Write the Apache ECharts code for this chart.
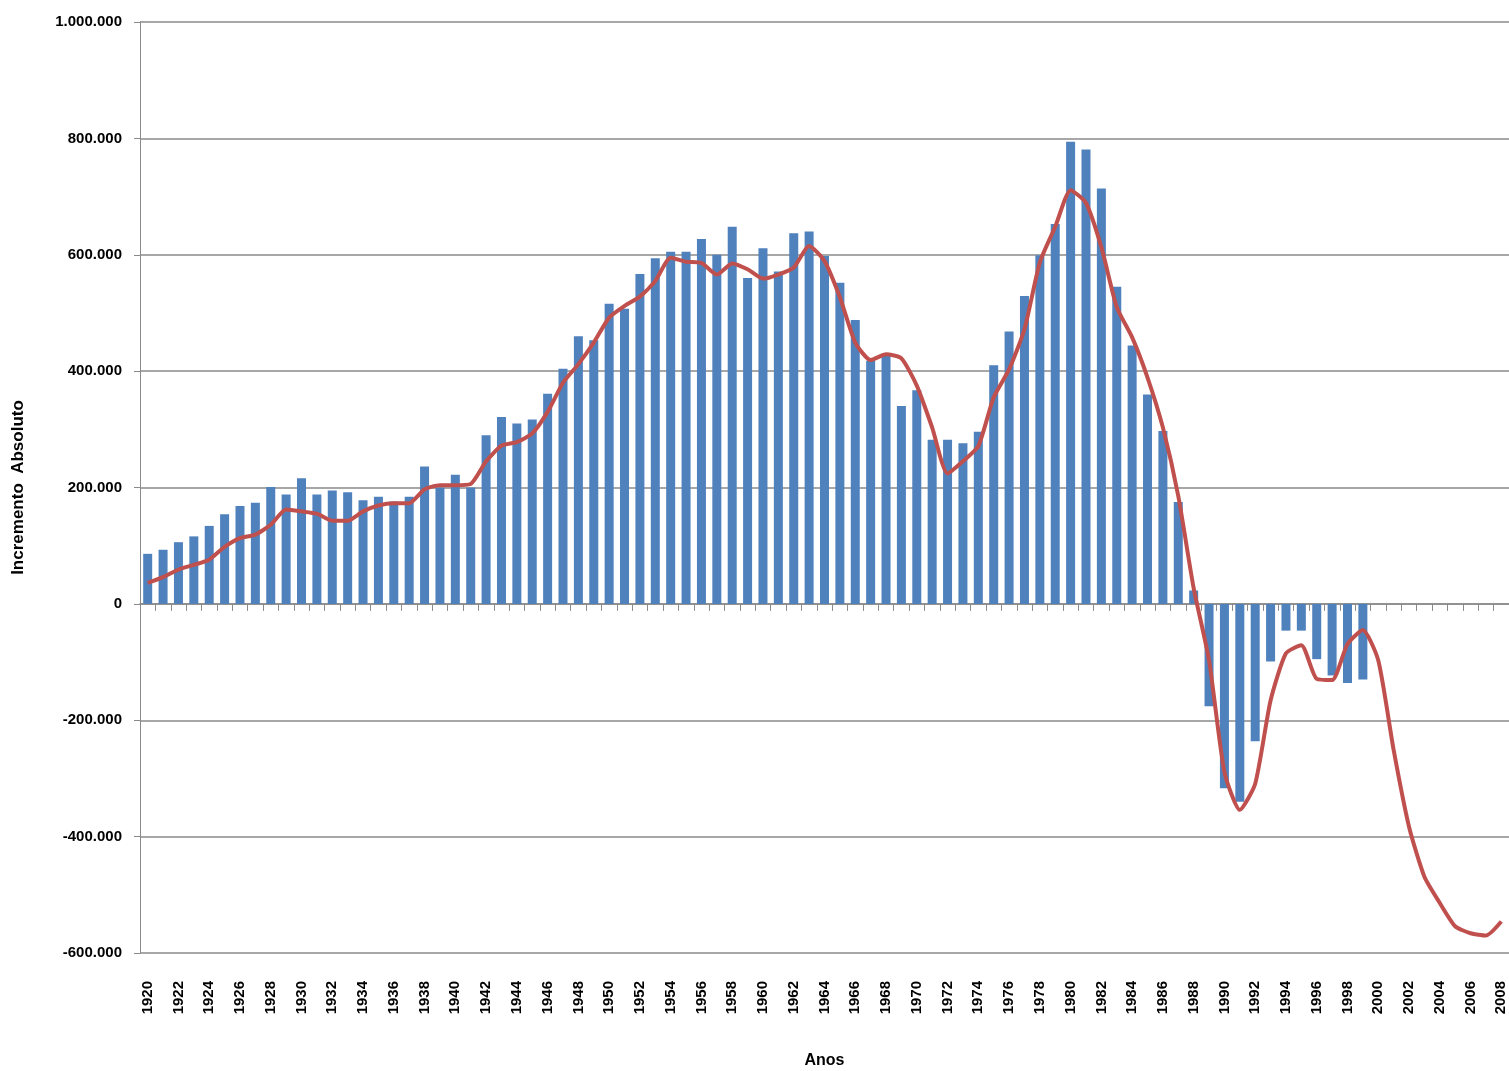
<!DOCTYPE html>
<html>
<head>
<meta charset="utf-8">
<title>Incremento Absoluto</title>
<script src="https://cdn.jsdelivr.net/npm/echarts@6/dist/echarts.min.js"></script>
<style>
  html, body {margin: 0; padding: 0; background: #fff;}
  #chart {width: 1509px; height: 1071px;}
</style>
</head>
<body>
<div id="chart"></div>
<script>
// anos
let years = [
  '1920', '1921', '1922', '1923', '1924', '1925', '1926', '1927', '1928', '1929',
  '1930', '1931', '1932', '1933', '1934', '1935', '1936', '1937', '1938', '1939',
  '1940', '1941', '1942', '1943', '1944', '1945', '1946', '1947', '1948', '1949',
  '1950', '1951', '1952', '1953', '1954', '1955', '1956', '1957', '1958', '1959',
  '1960', '1961', '1962', '1963', '1964', '1965', '1966', '1967', '1968', '1969',
  '1970', '1971', '1972', '1973', '1974', '1975', '1976', '1977', '1978', '1979',
  '1980', '1981', '1982', '1983', '1984', '1985', '1986', '1987', '1988', '1989',
  '1990', '1991', '1992', '1993', '1994', '1995', '1996', '1997', '1998', '1999',
  '2000', '2001', '2002', '2003', '2004', '2005', '2006', '2007', '2008'
];

// incremento absoluto (barras), 1920-1999
let increments = [
  86000, 93000, 106000, 116000, 134000, 154000, 168000, 174000, 201000, 188000,
  216000, 188000, 195000, 192000, 178000, 184000, 176000, 184000, 236000, 200000,
  222000, 200000, 290000, 321000, 310000, 317000, 361000, 404000, 460000, 453000,
  516000, 507000, 567000, 594000, 605000, 605000, 627000, 600000, 648000, 560000,
  611000, 571000, 637000, 640000, 598000, 552000, 488000, 418000, 426000, 340000,
  367000, 282000, 282000, 276000, 296000, 410000, 468000, 529000, 599000, 653000,
  794000, 781000, 714000, 545000, 444000, 360000, 297000, 175000, 23000, -176000,
  -317000, -340000, -236000, -99000, -46000, -46000, -95000, -123000, -136000, -130000
];

// tendência (linha), 1920-2008
let trend = [
  36000, 46000, 59000, 67000, 76000, 98000, 113000, 119000, 136000, 162000,
  159000, 155000, 143000, 143000, 159000, 169000, 173000, 173000, 197000, 204000,
  204000, 206000, 245000, 272000, 278000, 293000, 330000, 380000, 412000, 449000,
  492000, 512000, 528000, 555000, 595000, 588000, 586000, 566000, 585000, 575000,
  559000, 566000, 578000, 615000, 589000, 527000, 449000, 419000, 429000, 422000,
  375000, 303000, 224000, 245000, 271000, 355000, 403000, 472000, 587000, 648000,
  711000, 689000, 613000, 510000, 458000, 389000, 303000, 185000, 27000, -97000,
  -289000, -354000, -309000, -166000, -85000, -71000, -129000, -131000, -69000, -45000,
  -97000, -251000, -383000, -469000, -514000, -554000, -566000, -570000, -546000
];

let yTicks = [-600000, 1000000, 200000]; // min, max, intervalo

let fmt = function (v) {
  let s = String(Math.abs(v)).replace(/\B(?=(\d{3})+(?!\d))/g, '.');
  return v < 0 ? '-' + s : s;
};

let font = 'Liberation Sans';
let gridColor = '#8a8a8a';

let chart = echarts.init(document.getElementById('chart'));
chart.setOption({
  animation: false,
  backgroundColor: '#fff',
  grid: {left: 140, right: 0, top: 22, bottom: 118, outerBoundsMode: 'none', containLabel: false},
  xAxis: [
    {
      type: 'category', data: years, position: 'bottom',
      axisLine: {show: false, onZero: false},
      axisTick: {show: false},
      axisLabel: {
        interval: 1, rotate: 90, margin: 28,
        fontFamily: font, fontWeight: 'bold', fontSize: 15, color: '#000'
      },
      name: 'Anos', nameLocation: 'middle', nameGap: 100,
      nameTextStyle: {fontFamily: font, fontWeight: 'bold', fontSize: 16, color: '#000'}
    },
    {
      type: 'category', data: years, position: 'bottom',
      axisLine: {show: true, onZero: true, lineStyle: {color: gridColor, width: 1.5}},
      axisTick: {show: true, interval: 0, length: 7, lineStyle: {color: gridColor}},
      axisLabel: {show: false}
    }
  ],
  yAxis: {
    type: 'value', min: yTicks[0], max: yTicks[1], interval: yTicks[2],
    axisLine: {show: true, lineStyle: {color: gridColor}},
    axisTick: {show: true, length: 6, lineStyle: {color: gridColor}},
    splitLine: {lineStyle: {color: gridColor, width: 1.5}},
    axisLabel: {
      formatter: fmt, margin: 18,
      fontFamily: font, fontWeight: 'bold', fontSize: 15, color: '#000'
    },
    name: 'Incremento  Absoluto', nameLocation: 'middle', nameGap: 113,
    nameTextStyle: {fontFamily: font, fontWeight: 'bold', fontSize: 17, color: '#000'}
  },
  series: [
    {
      type: 'bar', data: increments, barWidth: 9,
      itemStyle: {color: '#4f81bd'}
    },
    {
      type: 'line', data: trend, smooth: 0.2, symbol: 'none',
      lineStyle: {color: '#c0504d', width: 4}
    }
  ]
});
</script>
</body>
</html>
